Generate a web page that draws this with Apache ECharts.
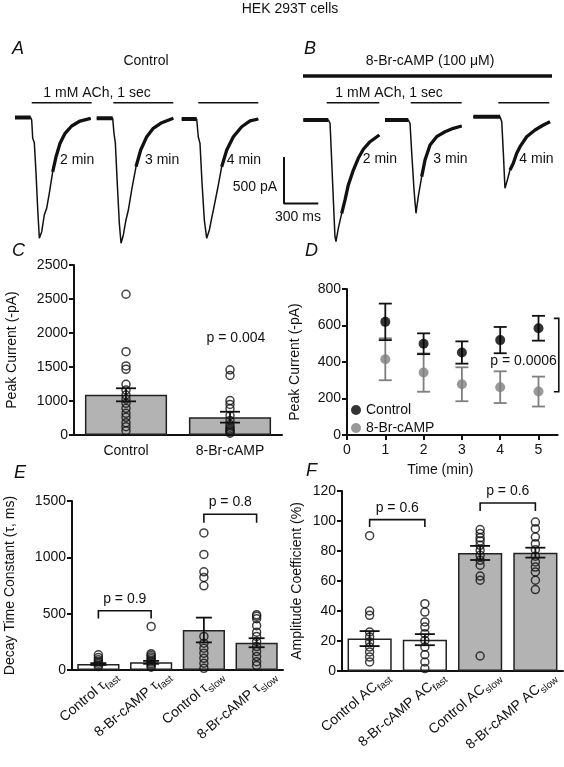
<!DOCTYPE html>
<html><head><meta charset="utf-8">
<script src="https://cdn.jsdelivr.net/npm/echarts@6/dist/echarts.min.js"></script>
<style>html,body{margin:0;padding:0;background:#fff}#c{width:564px;height:767px}</style>
</head><body><div id="c"></div>
<script>
// ================= DATA =================
// Current traces: [time (ms), current (pA)] relative to each trace's start / baseline
const traceA1 = [[0,0],[137,0],[146,-27],[155,-223],[169,-270],[184,-599],[199,-993],[213,-1296],[234,-1225],[256,-1046],[277,-974],[300,-813],[330,-582],[359,-421],[394,-277],[438,-170],[496,-91],[569,-38],[662,-9]];
const traceA2 = [[0,0],[140,0],[151,-161],[163,-262],[180,-697],[198,-1127],[213,-1341],[233,-1252],[256,-1091],[277,-984],[306,-769],[344,-519],[385,-340],[438,-197],[495,-107],[569,-47],[670,0]];
const traceA3 = [[0,0],[131,0],[145,-190],[160,-261],[178,-690],[198,-1084],[219,-1280],[242,-1191],[265,-1048],[283,-941],[312,-762],[350,-512],[394,-333],[452,-190],[525,-83],[598,-21],[670,0]];
const traceB1 = [[0,0],[219,0],[234,-35],[248,-429],[263,-858],[277,-1252],[286,-1306],[306,-1162],[336,-1001],[365,-858],[394,-697],[438,-537],[481,-411],[525,-314],[584,-233],[665,-161]];
const traceB2 = [[0,0],[204,0],[219,-35],[234,-357],[254,-751],[271,-1001],[291,-823],[321,-608],[350,-429],[394,-268],[452,-179],[525,-126],[598,-89],[671,-64]];
const traceB3 = [[0,0],[234,0],[249,-54],[263,-393],[277,-768],[298,-679],[321,-572],[350,-500],[380,-393],[409,-322],[467,-215],[540,-143],[613,-89],[671,-54]];
const traceLabels = ['2 min','3 min','4 min','2 min','3 min','4 min'];
const scaleBar = {pA: 500, ms: 300};

// Panel C
const cCategories = ['Control','8-Br-cAMP'];
const cMeans = [591, 262];
const cSem = [96, 80];
const cControlPts = [2070,1225,1015,966,745,662,588,529,466,392,319,260,181,123,64];
const cBrPts = [959,875,507,449,385,287,213,154,115,66,26,45,90];
const cTickLabels = ['0','1000','1500','2000','2500','2500'];
const cP = 'p = 0.004';

// Panel D
const dTimes = [1,2,3,4,5];
const dTickLabels = ['0','1','2','3','4','5'];
const dControl = [620,500,452,520,585];
const dControlSem = [100,57,61,72,68];
const dBr = [415,342,278,262,238];
const dBrSem = [115,105,93,87,82];
const dBracket = [639,237];
const dP = 'p = 0.0006';

// Panel E
const eLabelMain = ['Control \u03c4','8-Br-cAMP \u03c4','Control \u03c4','8-Br-cAMP \u03c4'];
const eLabelSub = ['fast','fast','slow','slow'];
const eMeans = [53,68,355,242];
const eSem = [8,13,110,40];
const ePts = [
  [135,110,90,75,60,45,30],
  [387,145,130,115,100,85,70,55,40,25],
  [1217,1026,871,822,747,298,238,193,149,104,60,15],
  [491,476,455,393,336,298,253,208,164,119,74,39]
];
const eBrackets = [[0,1,526,458],[2,3,1383,1306]];
const eP = ['p = 0.9','p = 0.8'];

// Panel F
const fLabelMain = ['Control AC','8-Br-cAMP AC','Control AC','8-Br-cAMP AC'];
const fLabelSub = ['fast','fast','slow','slow'];
const fMeans = [21.6,20.9,78.7,78.9];
const fSem = [5,3.7,4.7,3.3];
const fPts = [
  [90.2,40,37.1,26,22.7,19.3,16,12.7,9.3,6],
  [44.9,39.3,32.7,29.3,24.9,20.4,16,10.9,6,1.6],
  [94.3,91.6,88.9,86.7,83.8,80.5,77.1,73.8,70.5,63.3,60.5,10],
  [99.3,94.9,89.3,84.9,80.9,76.5,72.7,69.3,66,60.5,54.3]
];
const fBrackets = [[0,1,100.9,96],[2,3,112,106.7]];
const fP = ['p = 0.6','p = 0.6'];

// ================= LAYOUT / STYLE =================
const FONT = '"Liberation Sans", Arial, Helvetica, sans-serif';
const INK = '#111';
const GRAY_BAR = '#b3b3b3';
const PX_PER_MS = 0.1143, PX_PER_PA = 0.0932, T_SPAN = 700, I_SPAN = 1400;
const traces = [traceA1,traceA2,traceA3,traceB1,traceB2,traceB3];
const traceLayout = [
  {left:15, top:117.5, noisyFrom:12, lab:[60,160]},
  {left:96.7, top:118.3, noisyFrom:11, lab:[145,160]},
  {left:181.7, top:119, noisyFrom:11, lab:[226.7,160]},
  {left:303.3, top:120, noisyFrom:8, lab:[362.7,159.3]},
  {left:385, top:120, noisyFrom:7, lab:[433.3,159.3]},
  {left:473.3, top:116.7, noisyFrom:6, lab:[519.3,159.3]}
];
const LABEL_SHIFT = 0.35, LABEL_ROT = 40;

const chart = echarts.init(document.getElementById('c'), null, {renderer:'canvas', width:564, height:767});
const grids=[], xAxes=[], yAxes=[], series=[], graphics=[];
function addGrid(g, xa, ya){
  grids.push(Object.assign({outerBoundsMode:'none', containLabel:false}, g));
  const i = grids.length-1;
  xAxes.push(Object.assign({gridIndex:i}, xa));
  yAxes.push(Object.assign({gridIndex:i}, ya));
  return i;
}
const hiddenVal = (min,max)=>({type:'value', min, max, show:false, splitLine:{show:false}});
const axisLine = {show:true, onZero:false, lineStyle:{color:INK, width:2}};
const axisTick = {show:true, length:5, lineStyle:{color:INK, width:2}};
const lab = (extra)=>Object.assign({color:INK, fontSize:14, fontFamily:FONT, formatter:(v)=>String(v)}, extra||{});
const nameStyle = {color:INK, fontSize:14, fontFamily:FONT};

// traces
traces.forEach((tr,k)=>{
  const L = traceLayout[k];
  const gi = addGrid({left:L.left, top:L.top, width:T_SPAN*PX_PER_MS, height:I_SPAN*PX_PER_PA},
    hiddenVal(0,T_SPAN), hiddenVal(-I_SPAN,0));
  const base = {type:'line', xAxisIndex:gi, yAxisIndex:gi, showSymbol:false, clip:false, silent:true, animation:false};
  series.push(Object.assign({}, base, {data:tr, lineStyle:{color:INK, width:1.5}}));
  series.push(Object.assign({}, base, {data:tr.slice(0,2), lineStyle:{color:INK, width:4}}));
  series.push(Object.assign({}, base, {data:tr.slice(L.noisyFrom), lineStyle:{color:INK, width:3.3}}));
});
// scale bar
{
  const gi = addGrid({left:284, top:157, width:scaleBar.ms*PX_PER_MS, height:scaleBar.pA*PX_PER_PA},
    hiddenVal(0,scaleBar.ms), hiddenVal(0,scaleBar.pA));
  series.push({type:'line', xAxisIndex:gi, yAxisIndex:gi, showSymbol:false, clip:false, silent:true, animation:false,
    data:[[0,scaleBar.pA],[0,0],[scaleBar.ms,0]], lineStyle:{color:INK, width:2}});
}

// error bar renderer
function errRender(capHalf, color, width){
  return function(params, api){
    const x = api.value(0), lo = api.value(1), hi = api.value(2);
    const a = api.coord([x,lo]), b = api.coord([x,hi]);
    const st = {stroke:color, lineWidth:width||1.6};
    return {type:'group', children:[
      {type:'line', shape:{x1:a[0],y1:a[1],x2:b[0],y2:b[1]}, style:st},
      {type:'line', shape:{x1:a[0]-capHalf,y1:a[1],x2:a[0]+capHalf,y2:a[1]}, style:st},
      {type:'line', shape:{x1:b[0]-capHalf,y1:b[1],x2:b[0]+capHalf,y2:b[1]}, style:st}
    ]};
  };
}
function bracketRender(texts){
  return function(params, api){
    const i1 = api.value(0), i2 = api.value(1), top = api.value(2), tick = api.value(3);
    const p1 = api.coord([i1,top]), p2 = api.coord([i2,top]);
    const t1 = api.coord([i1,tick]);
    return {type:'group', children:[
      {type:'polyline', shape:{points:[[p1[0],t1[1]],[p1[0],p1[1]],[p2[0],p2[1]],[p2[0],t1[1]]]}, style:{stroke:INK, lineWidth:1.6, fill:null}},
      {type:'text', x:(p1[0]+p2[0])/2, y:p1[1]-12, style:{text:texts[params.dataIndex], fill:INK, font:'14px '+FONT, align:'center', verticalAlign:'middle'}}
    ]};
  };
}
const circleStyle = {color:'rgba(0,0,0,0)', borderColor:INK, borderWidth:1.5};
const richLab = {
  n:{fontSize:14, fontFamily:FONT, color:INK, lineHeight:14, verticalAlign:'top'},
  s:{fontSize:10, fontFamily:FONT, color:INK, lineHeight:17, verticalAlign:'bottom'}
};

// ---------- Panel C ----------
{
  const gi = addGrid({left:74, top:265, width:208, height:170},
    {type:'category', data:cCategories, axisLine, axisTick:{show:false}, axisLabel:{color:INK, fontSize:14, fontFamily:FONT, margin:9, interval:0}},
    {type:'value', min:0, max:2500, interval:500, axisLine, axisTick, splitLine:{show:false},
     axisLabel:lab({margin:6, formatter:(v)=>cTickLabels[Math.round(v/500)]}),
     name:'Peak Current (-pA)', nameLocation:'middle', nameGap:55, nameTextStyle:nameStyle});
  series.push({type:'bar', xAxisIndex:gi, yAxisIndex:gi, data:cMeans, barWidth:'79%', silent:true, animation:false,
    itemStyle:{color:GRAY_BAR, borderColor:'#222', borderWidth:1.5}});
  series.push({type:'scatter', xAxisIndex:gi, yAxisIndex:gi, symbol:'circle', symbolSize:8, silent:true, animation:false,
    data:cControlPts.map(v=>[0,v]).concat(cBrPts.map(v=>[1,v])), itemStyle:circleStyle});
  series.push({type:'custom', xAxisIndex:gi, yAxisIndex:gi, clip:false, silent:true, animation:false,
    renderItem:errRender(10, INK, 1.8), data:cMeans.map((m,i)=>[i, m-cSem[i], m+cSem[i]]), z:5});
  series.push({type:'custom', xAxisIndex:gi, yAxisIndex:gi, clip:false, silent:true, animation:false,
    renderItem:(p,api)=>{const c=api.coord([api.value(0),api.value(1)]);return {type:'text',x:c[0]+6,y:c[1],style:{text:cP,fill:INK,font:'14px '+FONT,align:'center',verticalAlign:'middle'}};},
    data:[[1,1430]]});
}

// ---------- Panel D ----------
{
  const gi = addGrid({left:347, top:289, width:5.5*38.3, height:146},
    {type:'value', min:0, max:5.5, axisLine, splitLine:{show:false},
     axisTick:Object.assign({customValues:[0,1,2,3,4,5]}, axisTick),
     axisLabel:lab({margin:8, customValues:[0,1,2,3,4,5], formatter:(v)=>dTickLabels[Math.round(v)]}),
     name:'Time (min)', nameLocation:'middle', nameGap:28, nameTextStyle:Object.assign({padding:[0,24,0,0]}, nameStyle)},
    {type:'value', min:0, max:800, interval:200, axisLine, axisTick, splitLine:{show:false}, axisLabel:lab({margin:6}),
     name:'Peak Current (-pA)', nameLocation:'middle', nameGap:45, nameTextStyle:nameStyle});
  series.push({type:'custom', xAxisIndex:gi, yAxisIndex:gi, clip:false, silent:true, animation:false,
    renderItem:errRender(6.5, '#7f7f7f', 1.8), data:dTimes.map((t,i)=>[t, dBr[i]-dBrSem[i], dBr[i]+dBrSem[i]])});
  series.push({type:'custom', xAxisIndex:gi, yAxisIndex:gi, clip:false, silent:true, animation:false,
    renderItem:errRender(6.5, INK, 1.8), data:dTimes.map((t,i)=>[t, dControl[i]-dControlSem[i], dControl[i]+dControlSem[i]])});
  series.push({type:'scatter', name:'8-Br-cAMP', xAxisIndex:gi, yAxisIndex:gi, symbol:'circle', symbolSize:10, silent:true, animation:false,
    data:dTimes.map((t,i)=>[t,dBr[i]]), itemStyle:{color:'#7f7f7f'}});
  series.push({type:'scatter', name:'Control', xAxisIndex:gi, yAxisIndex:gi, symbol:'circle', symbolSize:10, silent:true, animation:false,
    data:dTimes.map((t,i)=>[t,dControl[i]]), itemStyle:{color:'#000'}});
  series.push({type:'custom', xAxisIndex:gi, yAxisIndex:gi, clip:false, silent:true, animation:false, data:[[5.53, dBracket[0], dBracket[1]]],
    renderItem:(p,api)=>{
      const a=api.coord([api.value(0),api.value(1)]), b=api.coord([api.value(0),api.value(2)]);
      return {type:'group', children:[
        {type:'polyline', shape:{points:[[a[0]-5,a[1]],[a[0],a[1]],[b[0],b[1]],[b[0]-5,b[1]]]}, style:{stroke:INK,lineWidth:1.6,fill:null}},
        {type:'text', x:a[0]-2, y:(a[1]+b[1])/2+6, style:{text:dP, fill:INK, font:'14px '+FONT, align:'right', verticalAlign:'middle'}}
      ]};
    }});
}

// ---------- Panel E ----------
let gE, gF;
{
  gE = addGrid({left:72, top:501, width:211, height:169},
    {type:'category', data:eLabelMain, axisLine, axisTick:{show:false}, axisLabel:{show:false}},
    {type:'value', min:0, max:1500, interval:500, axisLine, axisTick, splitLine:{show:false}, axisLabel:lab({margin:6}),
     name:'Decay Time Constant (\u03c4, ms)', nameLocation:'middle', nameGap:55, nameTextStyle:nameStyle});
  const gi = gE;
  series.push({type:'bar', xAxisIndex:gi, yAxisIndex:gi, barWidth:'80%', silent:true, animation:false,
    data:eMeans.map((v,i)=>({value:v, itemStyle:{color: i<2 ? '#fff' : GRAY_BAR}})),
    itemStyle:{borderColor:'#222', borderWidth:1.5}});
  series.push({type:'scatter', xAxisIndex:gi, yAxisIndex:gi, symbol:'circle', symbolSize:8, silent:true, animation:false,
    data:[].concat(...ePts.map((arr,i)=>arr.map(v=>[i,v]))), itemStyle:circleStyle});
  series.push({type:'custom', xAxisIndex:gi, yAxisIndex:gi, clip:false, silent:true, animation:false, z:5,
    renderItem:errRender(8, INK, 1.8), data:eMeans.map((m,i)=>[i, m-eSem[i], m+eSem[i]])});
  series.push({type:'custom', xAxisIndex:gi, yAxisIndex:gi, clip:false, silent:true, animation:false,
    renderItem:bracketRender(eP), data:eBrackets});
}

// ---------- Panel F ----------
{
  gF = addGrid({left:342, top:491, width:221, height:180},
    {type:'category', data:fLabelMain, axisLine, axisTick:{show:false}, axisLabel:{show:false}},
    {type:'value', min:0, max:120, interval:20, axisLine, axisTick, splitLine:{show:false}, axisLabel:lab({margin:6}),
     name:'Amplitude Coefficient (%)', nameLocation:'middle', nameGap:38, nameTextStyle:nameStyle});
  const gi = gF;
  series.push({type:'bar', xAxisIndex:gi, yAxisIndex:gi, barWidth:'80%', silent:true, animation:false,
    data:fMeans.map((v,i)=>({value:v, itemStyle:{color: i<2 ? '#fff' : GRAY_BAR}})),
    itemStyle:{borderColor:'#222', borderWidth:1.5}});
  series.push({type:'scatter', xAxisIndex:gi, yAxisIndex:gi, symbol:'circle', symbolSize:8, silent:true, animation:false,
    data:[].concat(...fPts.map((arr,i)=>arr.map(v=>[i,v]))), itemStyle:circleStyle});
  series.push({type:'custom', xAxisIndex:gi, yAxisIndex:gi, clip:false, silent:true, animation:false, z:5,
    renderItem:errRender(10, INK, 1.8), data:fMeans.map((m,i)=>[i, m-fSem[i], m+fSem[i]])});
  series.push({type:'custom', xAxisIndex:gi, yAxisIndex:gi, clip:false, silent:true, animation:false,
    renderItem:bracketRender(fP), data:fBrackets});
}
// rotated category label axes for E and F (value axes aligned with the category centres)
function labelAxis(gi, mains, subs){
  const n = mains.length;
  xAxes.push({gridIndex:gi, type:'value', min:-0.5, max:n-0.5, position:'bottom',
    axisLine:{show:false}, axisTick:{show:false}, splitLine:{show:false},
    axisLabel:{customValues:mains.map((m,i)=>i+LABEL_SHIFT), rotate:LABEL_ROT, margin:5,
      formatter:(v)=>{const i=Math.round(v-LABEL_SHIFT); return `{n|${mains[i]}}{s|${subs[i]}}`;}, rich:richLab}});
}
labelAxis(gE, eLabelMain, eLabelSub);
labelAxis(gF, fLabelMain, fLabelSub);

// ---------- annotations ----------
function txt(text, x, y, size, opts){
  graphics.push({type:'text', x, y, silent:true, z:100,
    style:Object.assign({text, fill:INK, font:(size||14)+'px '+FONT, align:'center', verticalAlign:'middle'}, opts||{})});
}
function hline(x1,x2,y,w){ graphics.push({type:'line', silent:true, z:100, shape:{x1,y1:y,x2,y2:y}, style:{stroke:INK, lineWidth:w||1.5}}); }
txt('HEK 293T cells', 290, 9, 14);
[['A',12,49],['B',304,49],['C',12,251],['D',305,251],['E',14,473],['F',306,471]].forEach(l=>
  txt(l[0], l[1], l[2], 18, {font:'italic 18px '+FONT, align:'left'}));
txt('Control', 146, 61, 14);
txt('8-Br-cAMP (100 \u03bcM)', 430, 61, 14);
hline(303, 552, 76, 3.5);
txt('1 mM ACh, 1 sec', 97, 93, 14);
txt('1 mM ACh, 1 sec', 389, 93, 14);
[[31.7,91.7],[113.3,173.3],[198.3,258.3],[326.7,379.3],[410.7,461.7],[498.3,549.3]].forEach(b=>hline(b[0],b[1],102.7,1.6));
traceLayout.forEach((L,k)=>txt(traceLabels[k], L.lab[0], L.lab[1], 14, {align:'left'}));
txt(scaleBar.pA+' pA', 277, 187, 14, {align:'right'});
txt(scaleBar.ms+' ms', 298, 217, 14);

chart.setOption({
  animation:false,
  grid:grids, xAxis:xAxes, yAxis:yAxes, series,
  legend:{data:['Control','8-Br-cAMP'], orient:'vertical', left:346, top:398, itemWidth:10, itemHeight:10, itemGap:4,
    icon:'circle', textStyle:{color:INK, fontSize:14, fontFamily:FONT}, selectedMode:false},
  graphic:graphics
});
</script></body></html>
